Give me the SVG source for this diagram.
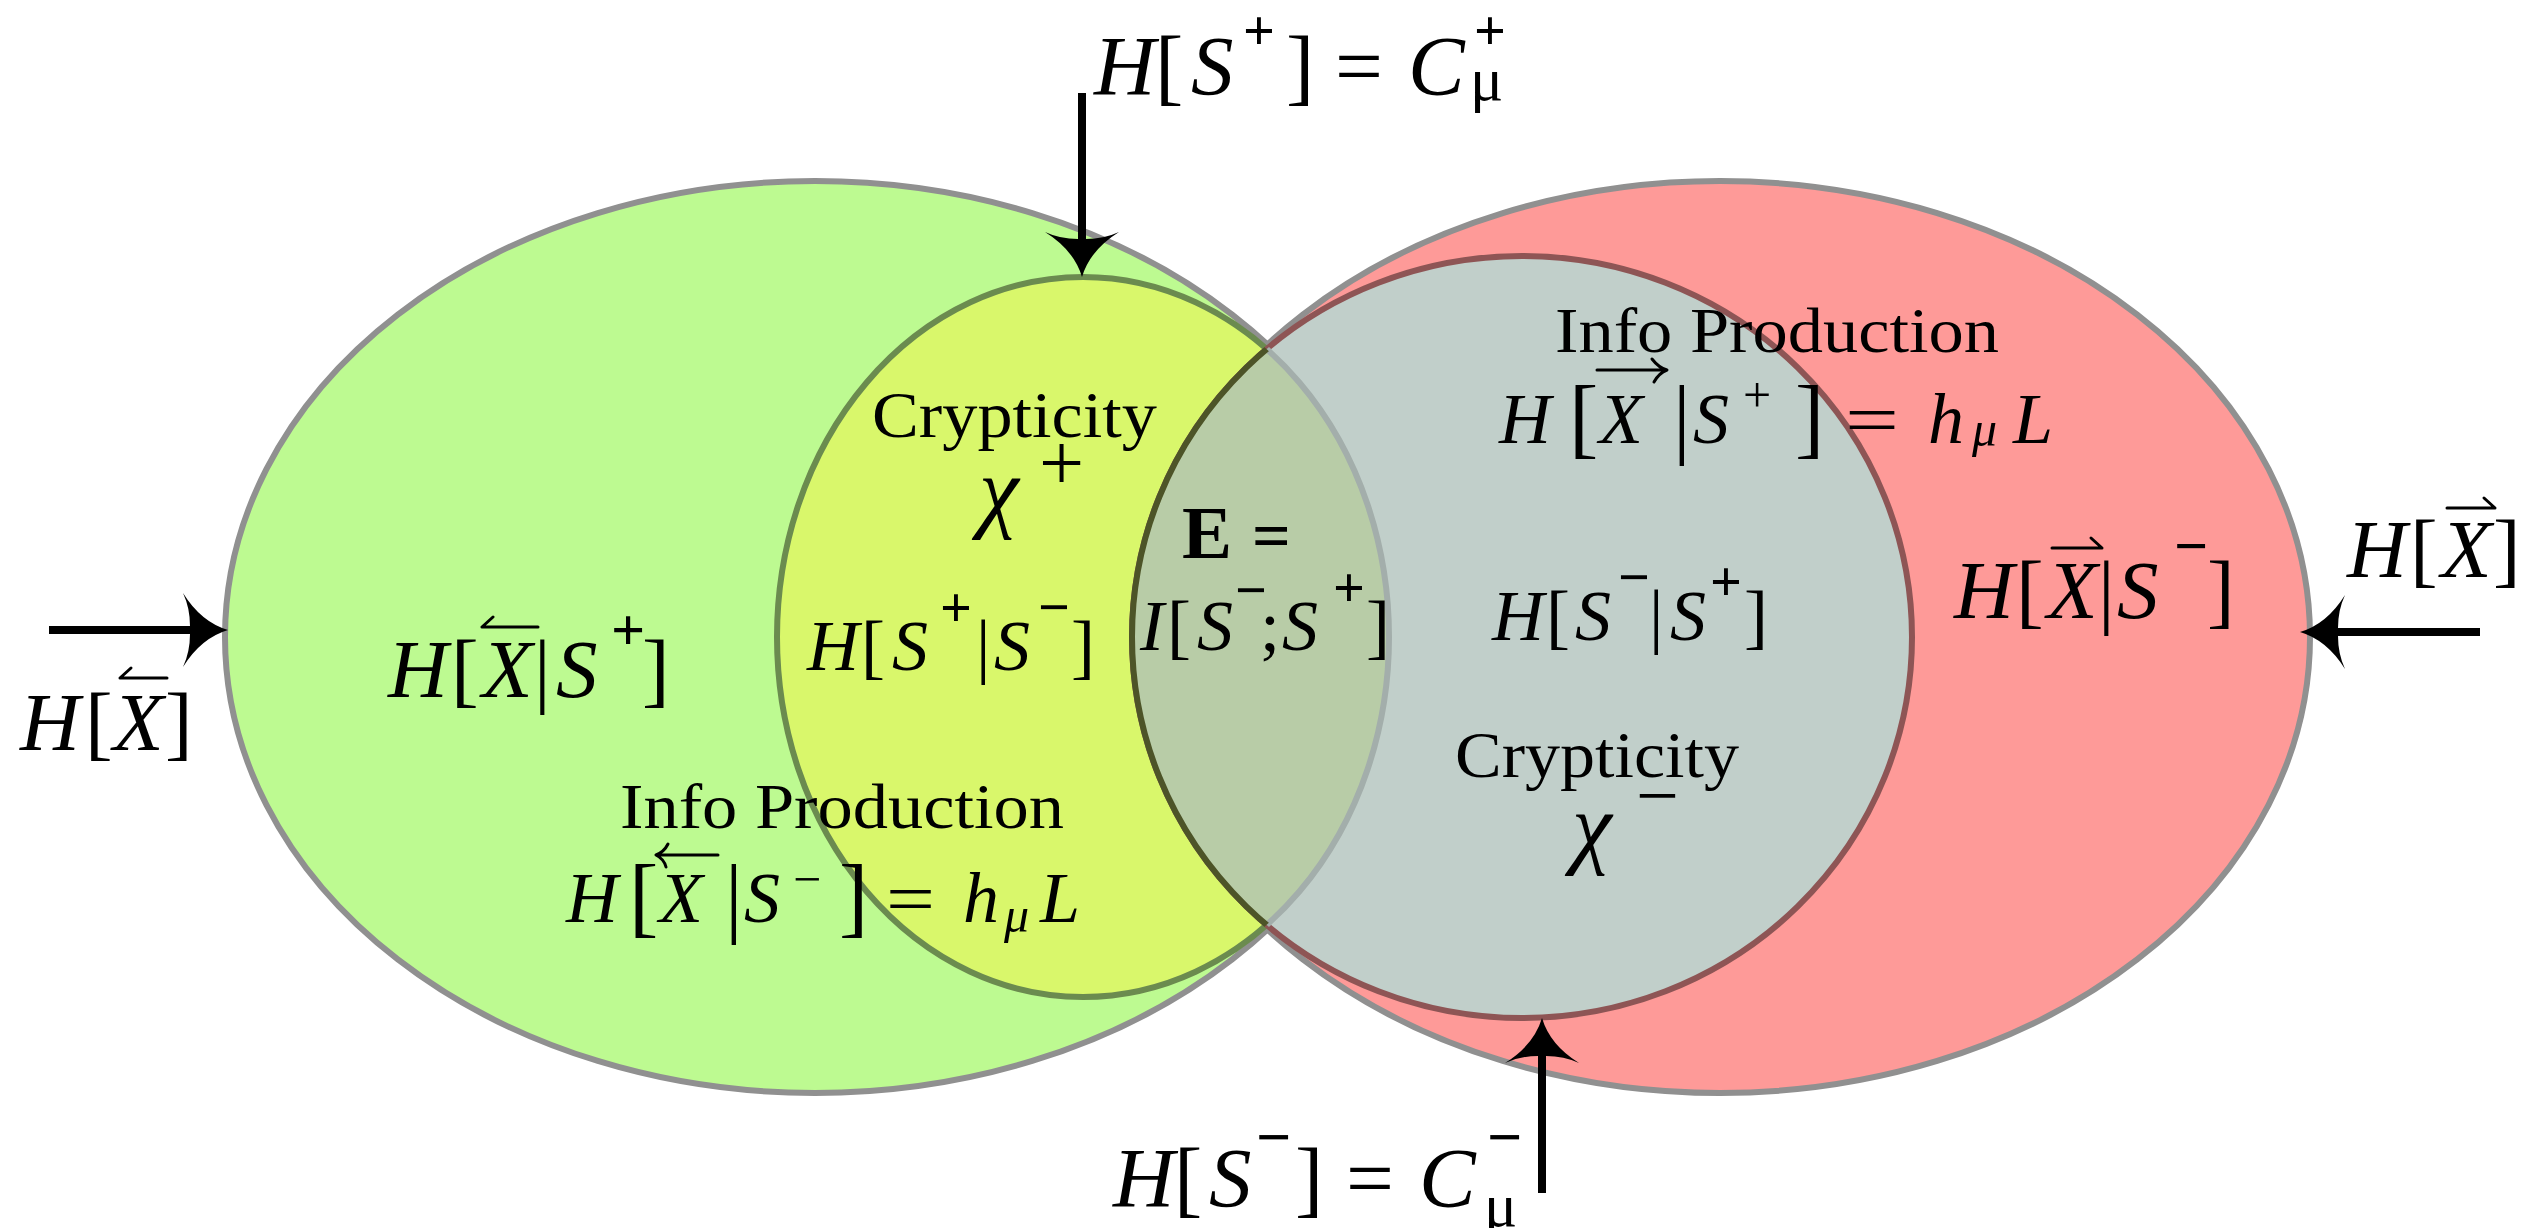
<svg xmlns="http://www.w3.org/2000/svg" width="2546" height="1228" viewBox="0 0 2546 1228">
<style>
.lbl{font-family:"Liberation Serif","Times New Roman",serif;fill:#000}
.it{font-style:italic}
.b{font-weight:bold}
.acc{fill:none;stroke:#000;stroke-width:3;stroke-linecap:round;stroke-linejoin:round}
.shaft{stroke:#000;stroke-width:8;fill:none}
.outer{stroke:#909090;stroke-width:6}
</style>
<defs>
<marker id="ah" markerUnits="userSpaceOnUse" viewBox="-20 -45 60 90" markerWidth="60" markerHeight="90" refX="0" refY="0" orient="auto" overflow="visible">
<path d="M30,0 Q3,-8 -15,-37 Q-8,-22 -8,-4 L-8,4 Q-8,22 -15,37 Q3,8 30,0 Z" fill="#000"/>
</marker>
<clipPath id="clipY"><ellipse cx="1083" cy="637" rx="306" ry="360"/></clipPath>
<clipPath id="clipG"><ellipse cx="1522" cy="637" rx="390" ry="381"/></clipPath>
</defs>
<rect width="2546" height="1228" fill="#fff"/>

<g id="past">
<ellipse cx="815" cy="637" rx="590" ry="456" fill="#bdfa91" class="outer"/>
</g>
<g id="future">
<ellipse cx="1720" cy="637" rx="590" ry="456" fill="#fe9a98" class="outer"/>
</g>
<g id="forward-states">
<ellipse cx="1083" cy="637" rx="306" ry="360" fill="#d9f76b" stroke="#6b8b4f" stroke-width="6"/>
</g>
<g id="reverse-states">
<ellipse cx="1522" cy="637" rx="390" ry="381" fill="#c1cfca" stroke="#8e5555" stroke-width="6"/>
</g>
<g id="excess-entropy">
<ellipse cx="1522" cy="637" rx="390" ry="381" fill="#b8cca7" clip-path="url(#clipY)"/>
<ellipse cx="1083" cy="637" rx="306" ry="360" fill="none" stroke="#a3aeab" stroke-width="6" clip-path="url(#clipG)"/>
<ellipse cx="1522" cy="637" rx="390" ry="381" fill="none" stroke="#4d5428" stroke-width="6" clip-path="url(#clipY)"/>
</g>

<g id="labels">
<text id="t-past-given-splus" class="lbl" font-size="83"><tspan class="it" x="388" y="697">H</tspan><tspan x="451" y="697">[</tspan><tspan class="it" x="482" y="697">X</tspan><tspan x="534" y="697">|</tspan><tspan class="it" x="556" y="697">S</tspan><tspan class="b" x="611" y="650" font-size="60">+</tspan><tspan x="642" y="697">]</tspan></text>
<path class="acc" d="M482,627 H538 M482,627 L493,617"/>

<text id="t-future-given-sminus" class="lbl" font-size="83"><tspan class="it" x="1954" y="618">H</tspan><tspan x="2016" y="618">[</tspan><tspan class="it" x="2047" y="618">X</tspan><tspan x="2098" y="618">|</tspan><tspan class="it" x="2117" y="618">S</tspan><tspan class="b" x="2174" y="566" font-size="60">&#8722;</tspan><tspan x="2207" y="618">]</tspan></text>
<path class="acc" d="M2052,548 H2102 L2091,538"/>

<text id="t-crypticity-plus" class="lbl" font-size="66" x="872" y="437" textLength="285" lengthAdjust="spacingAndGlyphs">Crypticity</text>
<text id="t-chi-plus" class="lbl"><tspan class="it" font-size="90" x="979" y="521">&#967;</tspan><tspan font-size="80" x="1039" y="490">+</tspan></text>

<text id="t-splus-given-sminus" class="lbl" font-size="72"><tspan class="it" x="807" y="670">H</tspan><tspan x="861" y="670">[</tspan><tspan class="it" x="892" y="670">S</tspan><tspan class="b" x="940" y="627" font-size="56">+</tspan><tspan x="976" y="670">|</tspan><tspan class="it" x="994" y="670">S</tspan><tspan class="b" x="1038" y="626" font-size="56">&#8722;</tspan><tspan x="1071" y="670">]</tspan></text>

<text id="t-e" class="lbl b"><tspan font-size="75" x="1182" y="558">E</tspan><tspan font-size="68" x="1252" y="558">=</tspan></text>
<text id="t-mutual" class="lbl" font-size="72"><tspan class="it" x="1140" y="650">I</tspan><tspan x="1167" y="650">[</tspan><tspan class="it" x="1197" y="650">S</tspan><tspan class="b" x="1235" y="609" font-size="56">&#8722;</tspan><tspan x="1260" y="650">;</tspan><tspan class="it" x="1282" y="650">S</tspan><tspan class="b" x="1333" y="607" font-size="56">+</tspan><tspan x="1366" y="650">]</tspan></text>

<text id="t-sminus-given-splus" class="lbl" font-size="72"><tspan class="it" x="1492" y="640">H</tspan><tspan x="1546" y="640">[</tspan><tspan class="it" x="1575" y="640">S</tspan><tspan class="b" x="1618" y="596" font-size="56">&#8722;</tspan><tspan x="1649" y="640">|</tspan><tspan class="it" x="1670" y="640">S</tspan><tspan class="b" x="1710" y="601" font-size="56">+</tspan><tspan x="1744" y="640">]</tspan></text>

<text id="t-crypticity-minus" class="lbl" font-size="66" x="1455" y="777" textLength="284" lengthAdjust="spacingAndGlyphs">Crypticity</text>
<text id="t-chi-minus" class="lbl"><tspan class="it" font-size="90" x="1572" y="857">&#967;</tspan><tspan font-size="76" x="1636" y="821">&#8722;</tspan></text>

<text id="t-info-future" class="lbl" font-size="64" x="1555" y="352" textLength="444" lengthAdjust="spacingAndGlyphs">Info Production</text>
<text class="lbl" font-size="72"><tspan class="it" x="1499" y="443">H</tspan><tspan x="1569" y="447" font-size="88">[</tspan><tspan class="it" x="1599" y="443">X</tspan><tspan x="1673" y="447" font-size="88">|</tspan><tspan class="it" x="1693" y="443">S</tspan><tspan x="1743" y="412" font-size="50">+</tspan><tspan x="1795" y="447" font-size="88">]</tspan></text>
<text class="lbl" font-size="72" x="1845" y="444" textLength="54" lengthAdjust="spacingAndGlyphs">=</text>
<text class="lbl it" font-size="72"><tspan x="1928" y="443">h</tspan><tspan x="1972" y="446" font-size="50">&#956;</tspan><tspan x="2013" y="443">L</tspan></text>
<path class="acc" d="M1597,370 H1665 M1652,359 Q1659,368 1667,370 Q1659,373 1654,382"/>

<text id="t-info-past" class="lbl" font-size="64" x="620" y="828" textLength="444" lengthAdjust="spacingAndGlyphs">Info Production</text>
<text class="lbl" font-size="72"><tspan class="it" x="566" y="922">H</tspan><tspan x="629" y="926" font-size="88">[</tspan><tspan class="it" x="659" y="922">X</tspan><tspan x="725" y="926" font-size="88">|</tspan><tspan class="it" x="744" y="922">S</tspan><tspan x="793" y="896" font-size="50">&#8722;</tspan><tspan x="839" y="926" font-size="88">]</tspan></text>
<text class="lbl" font-size="72" x="886" y="923" textLength="49" lengthAdjust="spacingAndGlyphs">=</text>
<text class="lbl it" font-size="72"><tspan x="963" y="922">h</tspan><tspan x="1004" y="932" font-size="50">&#956;</tspan><tspan x="1040" y="922">L</tspan></text>
<path class="acc" d="M657,855 H718 M668,844 Q664,852 656,855 Q664,859 666,867"/>

<text id="t-past" class="lbl" font-size="83"><tspan class="it" x="20" y="750">H</tspan><tspan x="85" y="750">[</tspan><tspan class="it" x="113" y="750">X</tspan><tspan x="165" y="750">]</tspan></text>
<path class="acc" d="M120,678 H167 M120,678 L131,668"/>

<text id="t-future" class="lbl" font-size="83"><tspan class="it" x="2347" y="577">H</tspan><tspan x="2410" y="577">[</tspan><tspan class="it" x="2441" y="577">X</tspan><tspan x="2493" y="577">]</tspan></text>
<path class="acc" d="M2447,508 H2495 L2484,498"/>

<text id="t-cplus" class="lbl" font-size="85"><tspan class="it" x="1094" y="95">H</tspan><tspan x="1155" y="95">[</tspan><tspan class="it" x="1191" y="95">S</tspan><tspan class="b" x="1243" y="50" font-size="56">+</tspan><tspan x="1286" y="95">]</tspan><tspan x="1335" y="95">=</tspan><tspan class="it" x="1408" y="95">C</tspan><tspan class="b" x="1474" y="50" font-size="56">+</tspan><tspan x="1470" y="100" font-size="62">&#956;</tspan></text>

<text id="t-cminus" class="lbl" font-size="85"><tspan class="it" x="1113" y="1207">H</tspan><tspan x="1174" y="1207">[</tspan><tspan class="it" x="1209" y="1207">S</tspan><tspan class="b" x="1256" y="1158" font-size="62">&#8722;</tspan><tspan x="1295" y="1207">]</tspan><tspan x="1346" y="1207">=</tspan><tspan class="it" x="1419" y="1207">C</tspan><tspan class="b" x="1487" y="1158" font-size="62">&#8722;</tspan><tspan x="1484" y="1226" font-size="62">&#956;</tspan></text>
</g>

<g id="connectors">
<line class="shaft" x1="1082" y1="93" x2="1082" y2="247" marker-end="url(#ah)"/>
<line class="shaft" x1="1542" y1="1193" x2="1542" y2="1048" marker-end="url(#ah)"/>
<line class="shaft" x1="49" y1="630" x2="198" y2="630" marker-end="url(#ah)"/>
<line class="shaft" x1="2480" y1="632" x2="2330" y2="632" marker-end="url(#ah)"/>
</g>
</svg>
